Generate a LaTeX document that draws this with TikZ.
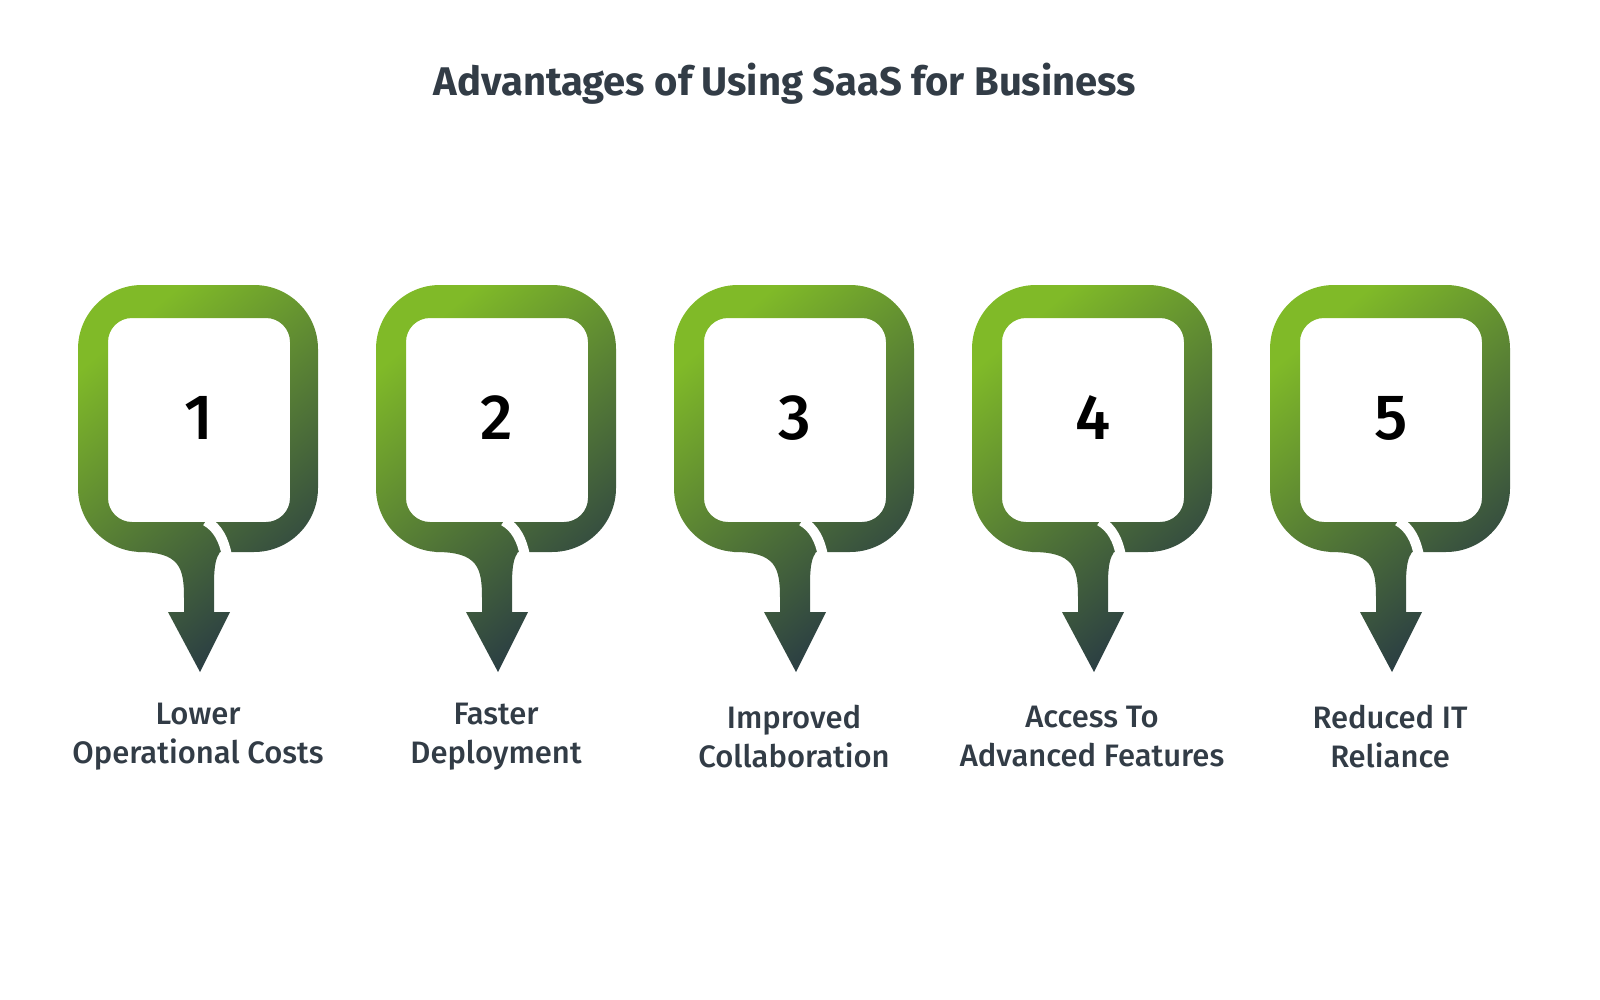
\documentclass[tikz,border=0pt]{standalone}
\usepackage{fontspec}
\setmainfont{Fira Sans}
\newfontfamily\medfont{Fira Sans Medium}
\begin{document}
\definecolor{gtop}{RGB}{128,186,40}
\definecolor{gmid}{RGB}{96,140,52}
\definecolor{gbot}{RGB}{40,58,68}
\definecolor{txt}{RGB}{50,60,70}
\begin{tikzpicture}[x=0.5pt,y=-0.5pt,
  shp/.style={shading=axis,top color=gtop,middle color=gmid,bottom color=gbot,shading angle=40,even odd rule},
  num/.style={font=\medfont\fontsize{32}{36}\selectfont,text=black},
  lbl/.style={font=\medfont\fontsize{15.5}{19.5}\selectfont,text=txt,align=center},
  gap/.style={white,line width=5}]
\useasboundingbox (0,0) rectangle (1600,1000);
\node[font=\fontsize{20}{24}\selectfont\bfseries,text=txt] (title) at (785,84) {Advantages of Using SaaS for Business};
\foreach \i/\cx/\lab in {1/198/{Lower\\Operational Costs},2/496/{Faster\\Deployment},3/794/{Improved\\Collaboration},4/1092/{Access To\\Advanced Features},5/1390/{Reduced IT\\Reliance}}{
  \path[shp,rounded corners=32] (\cx-120,285) -- (\cx+120,285) -- (\cx+120,552) -- (\cx-120,552) -- cycle
    [rounded corners=12] (\cx-90,318) -- (\cx+92,318) -- (\cx+92,522) -- (\cx-90,522) -- cycle
    [sharp corners] (\cx-60,552) .. controls (\cx-18,552) and (\cx-14,568) .. (\cx-14,598) -- (\cx-14,612) -- (\cx-30,612) -- (\cx+2,672) -- (\cx+32,612) -- (\cx+16,612) -- (\cx+16,585) .. controls (\cx+16,565) and (\cx+18,558) .. (\cx+22,552) -- cycle;
  \draw[gap] (\cx+8,521) .. controls (\cx+20,528) and (\cx+26,540) .. (\cx+29,556);
  \node[num] (n\i) at (\cx+1,418) {\i};
  \node[lbl] (l\i) at (\cx,737) {\lab};
}
\end{tikzpicture}
\end{document}
